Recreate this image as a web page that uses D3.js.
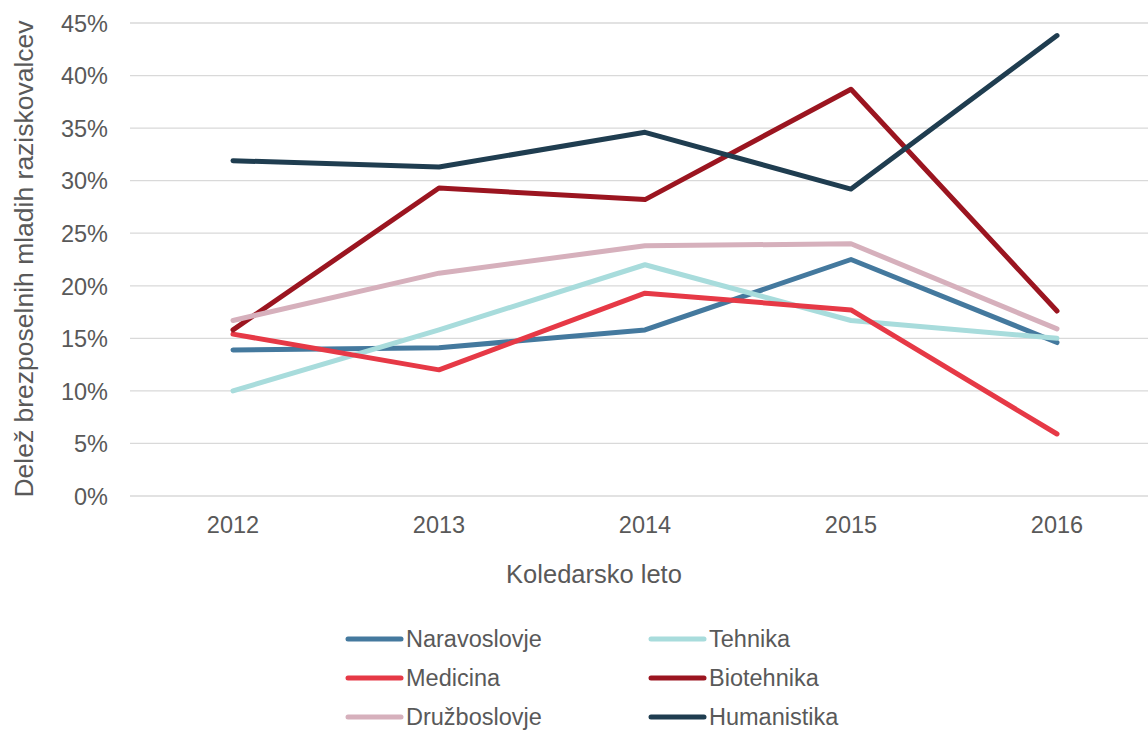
<!DOCTYPE html>
<html><head><meta charset="utf-8">
<script src="https://cdn.jsdelivr.net/npm/d3@7"></script>
<style>body{margin:0;background:#fff;} text{font-family:"Liberation Sans",Arial,sans-serif;fill:#595959;}</style>
</head><body><svg id="c" width="1148" height="731"></svg>
<script>
const years = ["2012","2013","2014","2015","2016"];
const yTicks = [0,5,10,15,20,25,30,35,40,45];
const seriesNames = ["Naravoslovje","Tehnika","Medicina","Biotehnika","Družboslovje","Humanistika"];
const seriesColors = ["#44799e","#a8dcdc","#e63946","#9b1520","#d6b0bc","#1f3d50"];
const naravoslovje = [13.9,14.1,15.8,22.5,14.6];
const tehnika = [10.0,15.8,22.0,16.7,15.0];
const medicina = [15.4,12.0,19.3,17.7,5.9];
const biotehnika = [15.8,29.3,28.2,38.7,17.6];
const druzboslovje = [16.7,21.2,23.8,24.0,15.9];
const humanistika = [31.9,31.3,34.6,29.2,43.8];
const seriesValues = [naravoslovje,tehnika,medicina,biotehnika,druzboslovje,humanistika];

const svg = d3.select("#c");
const x = d3.scaleBand().domain(years).range([130,1160]);
const y = d3.scaleLinear().domain([0,45]).range([496,23]);
const cx = d => x(d)+x.bandwidth()/2;

// gridlines
svg.append("g").selectAll("line").data(yTicks).join("line")
  .attr("x1",130).attr("x2",1160).attr("y1",d=>y(d)).attr("y2",d=>y(d))
  .attr("stroke","#d9d9d9").attr("stroke-width",1.3);

// y axis
const ya = svg.append("g").attr("transform","translate(130,0)")
  .call(d3.axisLeft(y).tickValues(yTicks).tickFormat(d=>d+"%").tickSize(0).tickPadding(22));
ya.select(".domain").remove();
ya.selectAll("text").style("font-size","23.5px").attr("fill","#595959").attr("dy","0.35em");

// x axis
const xa = svg.append("g").attr("transform","translate(0,496)")
  .call(d3.axisBottom(x).tickSize(0).tickPadding(0));
xa.select(".domain").remove();
xa.selectAll("text").style("font-size","23.5px").attr("fill","#595959").attr("y",37).attr("dy","0");

// titles
svg.append("text").attr("x",594).attr("y",583).attr("text-anchor","middle")
  .style("font-size","25.5px").text("Koledarsko leto");
svg.append("text").attr("transform","translate(33,259) rotate(-90)").attr("text-anchor","middle")
  .style("font-size","26.5px").text("Delež brezposelnih mladih raziskovalcev");

// lines
const line = d3.line().x((d,i)=>cx(years[i])).y(d=>y(d));
svg.append("g").selectAll("path").data(seriesValues).join("path")
  .attr("d",line).attr("fill","none")
  .attr("stroke",(d,i)=>seriesColors[i]).attr("stroke-width",5)
  .attr("stroke-linecap","round").attr("stroke-linejoin","round");

// legend
const lg = svg.append("g");
seriesNames.forEach((n,i)=>{
  const col = i%2, row = Math.floor(i/2);
  const lx = col===0 ? 348 : 651;
  const ly = 639 + row*39;
  lg.append("line").attr("x1",lx).attr("x2",lx+53).attr("y1",ly).attr("y2",ly)
    .attr("stroke",seriesColors[i]).attr("stroke-width",5).attr("stroke-linecap","round");
  lg.append("text").attr("x",lx+58).attr("y",ly).attr("dy","0.35em")
    .style("font-size","23.5px").text(n);
});
</script></body></html>
